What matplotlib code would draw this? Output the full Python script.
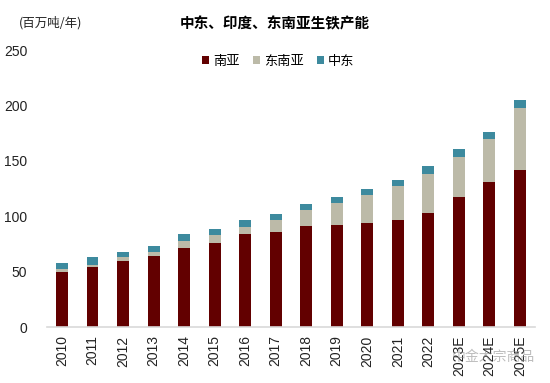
import matplotlib
matplotlib.use('Agg')
import matplotlib.pyplot as plt
import numpy as np

years = ['2010', '2011', '2012', '2013', '2014', '2015', '2016', '2017',
         '2018', '2019', '2020', '2021', '2022', '2023E', '2024E', '2025E']
south_asia = [50, 54, 60, 64, 71, 76, 84, 86, 91, 92.5, 94, 97, 103, 117.5, 131, 142]
southeast_asia = [2, 2.5, 3, 3.7, 7, 7, 6.5, 10.5, 14.5, 19.5, 25, 30, 35, 36, 38.5, 56]
middle_east = [6, 6.5, 5, 5.4, 6, 5.4, 6, 5.5, 5.5, 5, 5.5, 6, 7, 7.5, 7, 7]
series_names = ['南亚', '东南亚', '中东']
colors = ['#620000', '#bcbaa8', '#3d8a9e']

plt.rcParams['font.family'] = ['Liberation Sans', 'Noto Sans CJK SC', 'DejaVu Sans']

fig = plt.figure(figsize=(5.5, 3.83), dpi=100)
ax = fig.add_axes([0.085, 0.146, 0.888, 0.723])

x = np.arange(len(years))
w = 0.39
bottom = np.zeros(len(years))
for vals, name, c in zip([south_asia, southeast_asia, middle_east], series_names, colors):
    ax.bar(x, vals, w, bottom=bottom, color=c, label=name, zorder=2)
    bottom += np.array(vals)

ax.set_xlim(-0.5, len(years) - 0.5)
ax.set_ylim(0, 250)
ax.set_yticks(range(0, 251, 50))
ax.set_xticks(x)
ax.set_xticklabels(years, rotation=90, fontsize=10, color='#222222')
ax.tick_params(axis='y', length=0, pad=14, labelsize=10, labelcolor='#222222')
ax.tick_params(axis='x', length=0, pad=6)
for s in ['top', 'right', 'left']:
    ax.spines[s].set_visible(False)
ax.spines['bottom'].set_color('#d9d9d9')
ax.spines['bottom'].set_linewidth(1.2)

leg = ax.legend(loc='upper center', bbox_to_anchor=(0.474, 1.025), ncol=3, frameon=False,
                handlelength=0.55, handleheight=0.55, handletextpad=0.3,
                columnspacing=1.0, prop={'family': ['Noto Sans CJK SC'], 'size': 9.5})

fig.text(0.035, 0.94, '(百万吨/年)', fontsize=9, family=['Noto Sans CJK SC'],
         color='#222222', va='center')
fig.text(0.5, 0.938, '中东、印度、东南亚生铁产能', fontsize=10.5, fontweight='bold',
         family=['Noto Sans CJK SC'], ha='center', va='center')
fig.text(0.896, 0.068, '中金大宗商品', fontsize=10, family=['Noto Sans CJK SC'],
         color='#888888', alpha=0.55, ha='center', va='center')

fig.savefig('out.png', dpi=100)
